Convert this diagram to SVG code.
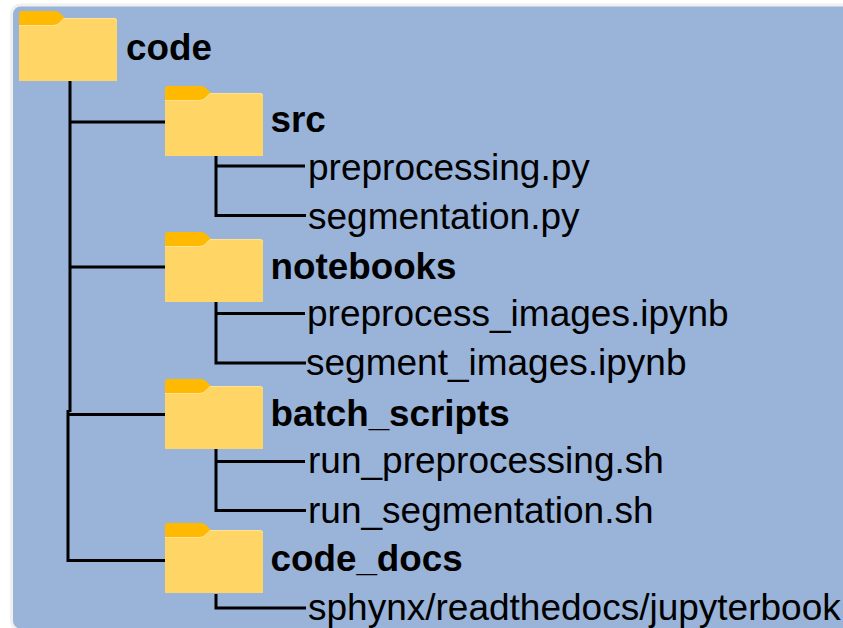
<svg xmlns="http://www.w3.org/2000/svg" width="843" height="628" viewBox="0 0 843 628">
<style>
text{font-family:"Liberation Sans",Arial,sans-serif;fill:#000}
.f{font-size:36.800px;font-weight:700}
.s{font-size:37px}
.l{fill:none;stroke:#000;stroke-width:3}
.body{fill:#ffd566}
.tab{fill:#ffb900}
.hi{fill:none;stroke:#ffe38f;stroke-width:1}
</style>
<defs>
<g id="folder">
<path class="tab" d="M0 14V3Q0 0 3 0H36Q39 0 41 2L46 7V8L38 14Z"/>
<path class="body" d="M0 14H35Q38 14 40 12L45 7H95Q98 7 98 10V70H0Z"/>
<path class="hi" d="M0 14.500H35Q38 14.500 40 12.500L45 7.500H95Q97.500 7.500 97.500 10"/>
</g>
</defs>
<rect width="843" height="628" fill="#fff"/>
<rect x="11.500" y="5" width="860" height="625" rx="9" fill="#99b3d9" stroke="#f0f0f0" stroke-width="3"/>
<g id="connectors">
<path class="l" d="M70 81V412"/>
<path class="l" d="M70 122H165"/>
<path class="l" d="M70 267H165"/>
<path class="l" d="M68 410V560.500H165"/>
<path class="l" d="M68 414.500H165"/>
<path class="l" d="M216 156V215.500H306"/>
<path class="l" d="M216 166H305"/>
<path class="l" d="M216 302V363H306"/>
<path class="l" d="M216 313.500H305"/>
<path class="l" d="M216 449V510.500H306"/>
<path class="l" d="M216 461.500H305"/>
<path class="l" d="M216 594V608H306"/>
</g>
<g id="node-code"><use href="#folder" x="19" y="11"/><text class="f" x="126" y="60">code</text></g>
<g id="node-src"><use href="#folder" x="165" y="86"/><text class="f" x="270.500" y="132">src</text></g>
<g id="node-preprocessing"><text class="s" x="308" y="180">preprocessing.py</text></g>
<g id="node-segmentation"><text class="s" x="308" y="229">segmentation.py</text></g>
<g id="node-notebooks"><use href="#folder" x="165" y="232"/><text class="f" x="270.500" y="279">notebooks</text></g>
<g id="node-preprocess-images"><text class="s" x="307" y="326">preprocess_images.ipynb</text></g>
<g id="node-segment-images"><text class="s" x="306" y="375">segment_images.ipynb</text></g>
<g id="node-batch-scripts"><use href="#folder" x="165" y="379"/><text class="f" x="270.500" y="426">batch_scripts</text></g>
<g id="node-run-preprocessing"><text class="s" x="308" y="473">run_preprocessing.sh</text></g>
<g id="node-run-segmentation"><text class="s" x="308" y="523">run_segmentation.sh</text></g>
<g id="node-code-docs"><use href="#folder" x="165" y="523"/><text class="f" x="270.500" y="571">code_docs</text></g>
<g id="node-sphynx"><text class="s" x="308" y="620">sphynx/readthedocs/jupyterbook</text></g>
</svg>
